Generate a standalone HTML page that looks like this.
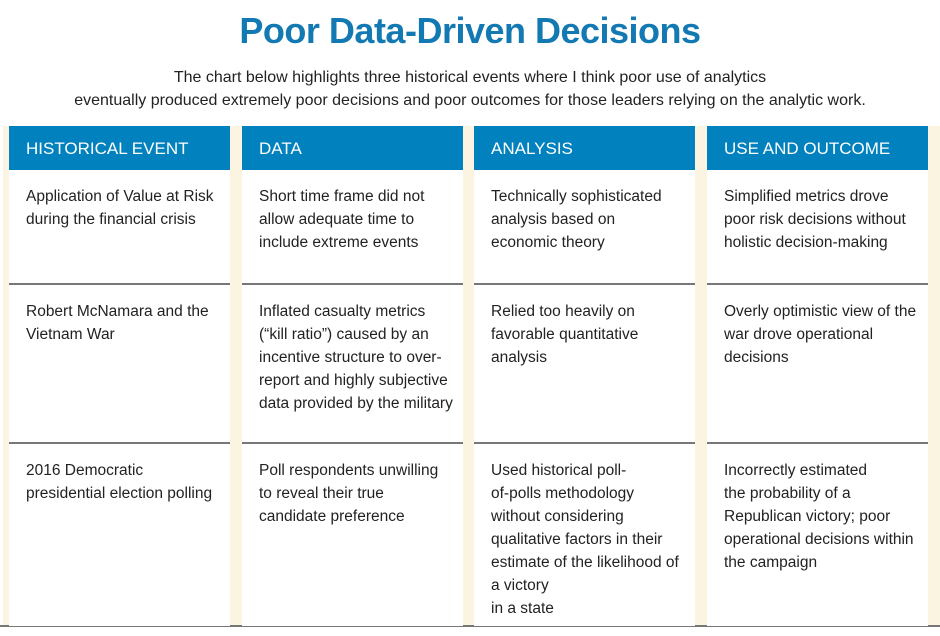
<!DOCTYPE html>
<html><head><meta charset="utf-8"><style>
body{margin:0;width:940px;height:636px;background:#fff;font-family:"Liberation Sans",sans-serif;position:relative;overflow:hidden}
.t{position:absolute;left:0;width:940px;text-align:center}
h1{margin:0;top:10px;font-size:36px;font-weight:bold;color:#1379b2;letter-spacing:-0.5px}
.sub{top:66px;font-size:16px;line-height:23px;color:#222}
.beige{position:absolute;top:126px;height:500px;background:#fbf4e0}
.col{position:absolute;top:126px;width:221px;height:500px;background:#fff}
.hd{height:44px;background:#0181bd;color:#fff;font-size:17px;line-height:46px;padding-left:17px;box-sizing:border-box}
.cell{position:absolute;left:0;width:221px;box-sizing:border-box;padding:15px 10px 0 17px;font-size:15.5px;line-height:23px;color:#222;border-bottom:2px solid #777}
</style></head><body>
<h1 class="t">Poor Data-Driven Decisions</h1>
<div class="t sub">The chart below highlights three historical events where I think poor use of analytics<br>eventually produced extremely poor decisions and poor outcomes for those leaders relying on the analytic work.</div>
<div class="beige" style="left:3px;width:937px"></div>
<div style="position:absolute;left:0;top:625px;width:940px;height:2px;background:#777"></div>

<div class="col" style="left:9px">
<div class="hd">HISTORICAL EVENT</div>
<div class="cell" style="top:44px;height:115px">Application of Value at Risk during the financial crisis</div>
<div class="cell" style="top:159px;height:159px">Robert McNamara and the Vietnam War</div>
<div class="cell" style="top:318px;height:182px;border:none">2016 Democratic presidential election polling</div>
</div>

<div class="col" style="left:242px">
<div class="hd">DATA</div>
<div class="cell" style="top:44px;height:115px">Short time frame did not allow adequate time to include extreme events</div>
<div class="cell" style="top:159px;height:159px">Inflated casualty metrics (“kill ratio”) caused by an incentive structure to over-report and highly subjective data provided by the military</div>
<div class="cell" style="top:318px;height:182px;border:none">Poll respondents unwilling to reveal their true candidate preference</div>
</div>

<div class="col" style="left:474px">
<div class="hd">ANALYSIS</div>
<div class="cell" style="top:44px;height:115px">Technically sophisticated analysis based on economic theory</div>
<div class="cell" style="top:159px;height:159px">Relied too heavily on favorable quantitative analysis</div>
<div class="cell" style="top:318px;height:182px;border:none">Used historical poll-<br>of-polls methodology without considering qualitative factors in their estimate of the likelihood of a victory<br>in a state</div>
</div>

<div class="col" style="left:707px">
<div class="hd">USE AND OUTCOME</div>
<div class="cell" style="top:44px;height:115px">Simplified metrics drove poor risk decisions without holistic decision-making</div>
<div class="cell" style="top:159px;height:159px">Overly optimistic view of the war drove operational decisions</div>
<div class="cell" style="top:318px;height:182px;border:none">Incorrectly estimated<br>the probability of a Republican victory; poor operational decisions within the campaign</div>
</div>
</body></html>
